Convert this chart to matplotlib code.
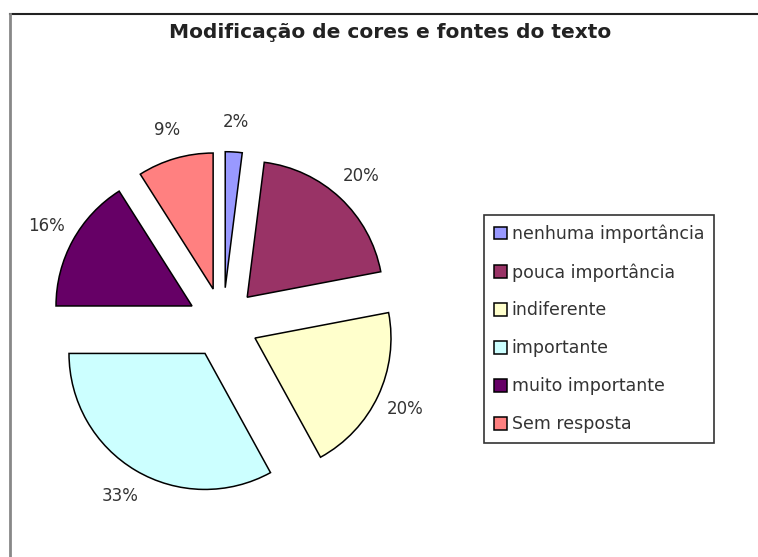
import matplotlib.pyplot as plt
from matplotlib.lines import Line2D

plt.rcParams['font.family'] = ['DejaVu Sans']

# dados
categorias = ['nenhuma importância', 'pouca importância', 'indiferente',
              'importante', 'muito importante', 'Sem resposta']
valores = [2, 20, 20, 33, 16, 9]
cores = ['#9999FF', '#993366', '#FFFFCC', '#CCFFFF', '#660066', '#FF8080']
titulo = 'Modificação de cores e fontes do texto'

W, H = 758, 557
fig = plt.figure(figsize=(W / 100, H / 100), dpi=100)

# pizza: centro (223, 323) px, raio ~136 px
cx, cy, r_px, half = 223, 323, 136, 200
ax = fig.add_axes([(cx - half) / W, (H - cy - half) / H, 2 * half / W, 2 * half / H])
lim = half / r_px

wedges, textos, pcts = ax.pie(valores, colors=cores, startangle=90, counterclock=False,
                              explode=[0.26] * len(valores), radius=1,
                              autopct='%1.0f%%', pctdistance=1.22,
                              wedgeprops=dict(edgecolor='black', linewidth=1.1),
                              textprops=dict(fontsize=12, color='#333333'))
ax.set_xlim(-lim, lim)
ax.set_ylim(-lim, lim)
ax.set_aspect('equal')
ax.axis('off')

fig.text(390 / W, 1 - 32 / H, titulo, ha='center', va='center',
         fontsize=14.5, fontweight='bold', color='#222222')

leg = fig.legend(wedges, categorias, loc='upper left',
                 bbox_to_anchor=(484 / W, 1 - 215 / H), frameon=True, fancybox=False,
                 fontsize=12.5, labelspacing=1.15, handlelength=0.75, handleheight=0.75,
                 handletextpad=0.3, borderpad=0.55, borderaxespad=0)
leg.get_frame().set_edgecolor('black')
leg.get_frame().set_linewidth(1.2)
for t in leg.get_texts():
    t.set_color('#333333')

# moldura do gráfico
fig.add_artist(Line2D([10 / W, 1], [1 - 14 / H, 1 - 14 / H], color='#222222', lw=1.5))
fig.add_artist(Line2D([10 / W, 10 / W], [0, 1 - 14 / H], color='#888888', lw=2))

fig.savefig('out.png', dpi=100)
